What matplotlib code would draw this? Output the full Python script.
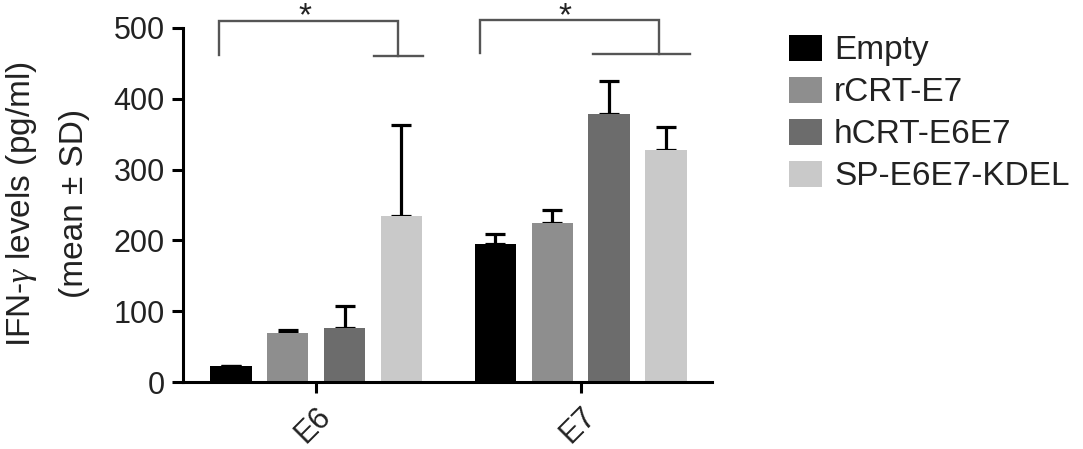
import matplotlib
matplotlib.use("Agg")
import matplotlib.pyplot as plt
import numpy as np

plt.rcParams['font.family'] = ['Liberation Sans', 'DejaVu Sans']
plt.rcParams['mathtext.fontset'] = 'custom'
plt.rcParams['mathtext.it'] = 'Liberation Serif:italic'
plt.rcParams['mathtext.rm'] = 'Liberation Sans'

# data
groups = ['E6', 'E7']
series = ['Empty', 'rCRT-E7', 'hCRT-E6E7', 'SP-E6E7-KDEL']
means = {
    'Empty':        [23, 195],
    'rCRT-E7':      [70, 225],
    'hCRT-E6E7':    [76, 378],
    'SP-E6E7-KDEL': [234, 327],
}
sds = {
    'Empty':        [0, 14],
    'rCRT-E7':      [3, 18],
    'hCRT-E6E7':    [31, 47],
    'SP-E6E7-KDEL': [129, 33],
}
colors = ['#000000', '#8e8e8e', '#6c6c6c', '#c9c9c9']
yticks = [0, 100, 200, 300, 400, 500]

fig = plt.figure(figsize=(10.83, 4.49), dpi=100)
ax = fig.add_axes([0.169, 0.149, 0.488, 0.789])

x = np.arange(len(groups))
step = 0.215
width = 0.157
for i, (name, col) in enumerate(zip(series, colors)):
    pos = x + (i - 1.5) * step
    ax.bar(pos, means[name], width, color=col, label=name, zorder=2)
    ax.errorbar(pos, means[name], yerr=[np.zeros(len(groups)), sds[name]],
                fmt='none', ecolor='black', elinewidth=2.3, capsize=7.5,
                capthick=2.3, zorder=1)

# significance brackets
bcol = '#555555'
blw = 1.7
def bracket(x_left, x_right, y_top, y_left, y_right, seg):
    ax.plot([x_left, x_left, x_right, x_right],
            [y_left, y_top, y_top, y_right],
            color=bcol, lw=blw, clip_on=False, solid_joinstyle='miter')
    ax.plot(seg, [y_right, y_right], color=bcol, lw=blw, clip_on=False)
    ax.text((x_left + x_right) / 2 - 0.015, 503, '*', ha='center',
            va='baseline', fontsize=24, color='#222222', clip_on=False)

bracket(-0.366, 0.309, 509, 462, 460, [0.219, 0.404])
bracket(0.619, 1.294, 511, 465, 463, [1.045, 1.411])

ax.set_xlim(-0.503, 1.494)
ax.set_ylim(0, 500)
ax.set_yticks(yticks)
ax.set_xticks(x)
ax.set_xticklabels(groups, rotation=45, ha='right', rotation_mode='anchor')

for s in ['top', 'right']:
    ax.spines[s].set_visible(False)
for s in ['left', 'bottom']:
    ax.spines[s].set_linewidth(2.2)
ax.tick_params(axis='both', width=2.2, length=8, labelsize=22,
               colors='black', labelcolor='#222222', pad=5)
ax.tick_params(axis='x', pad=6)

fig.text(47 / 1083, 0.546, 'IFN-$\\gamma$ levels (pg/ml)\n(mean ± SD)',
         rotation=90, ha='center', va='center', multialignment='center',
         fontsize=24, color='#222222', linespacing=1.85)

ax.legend(loc='upper left', bbox_to_anchor=(789 / 1083, 1 - 35 / 449),
          bbox_transform=fig.transFigure, frameon=False, fontsize=24,
          handlelength=1.0, handleheight=0.8, handletextpad=0.35,
          labelspacing=0.32, borderpad=0, borderaxespad=0,
          labelcolor='#222222')

fig.savefig('out.png', dpi=100)
